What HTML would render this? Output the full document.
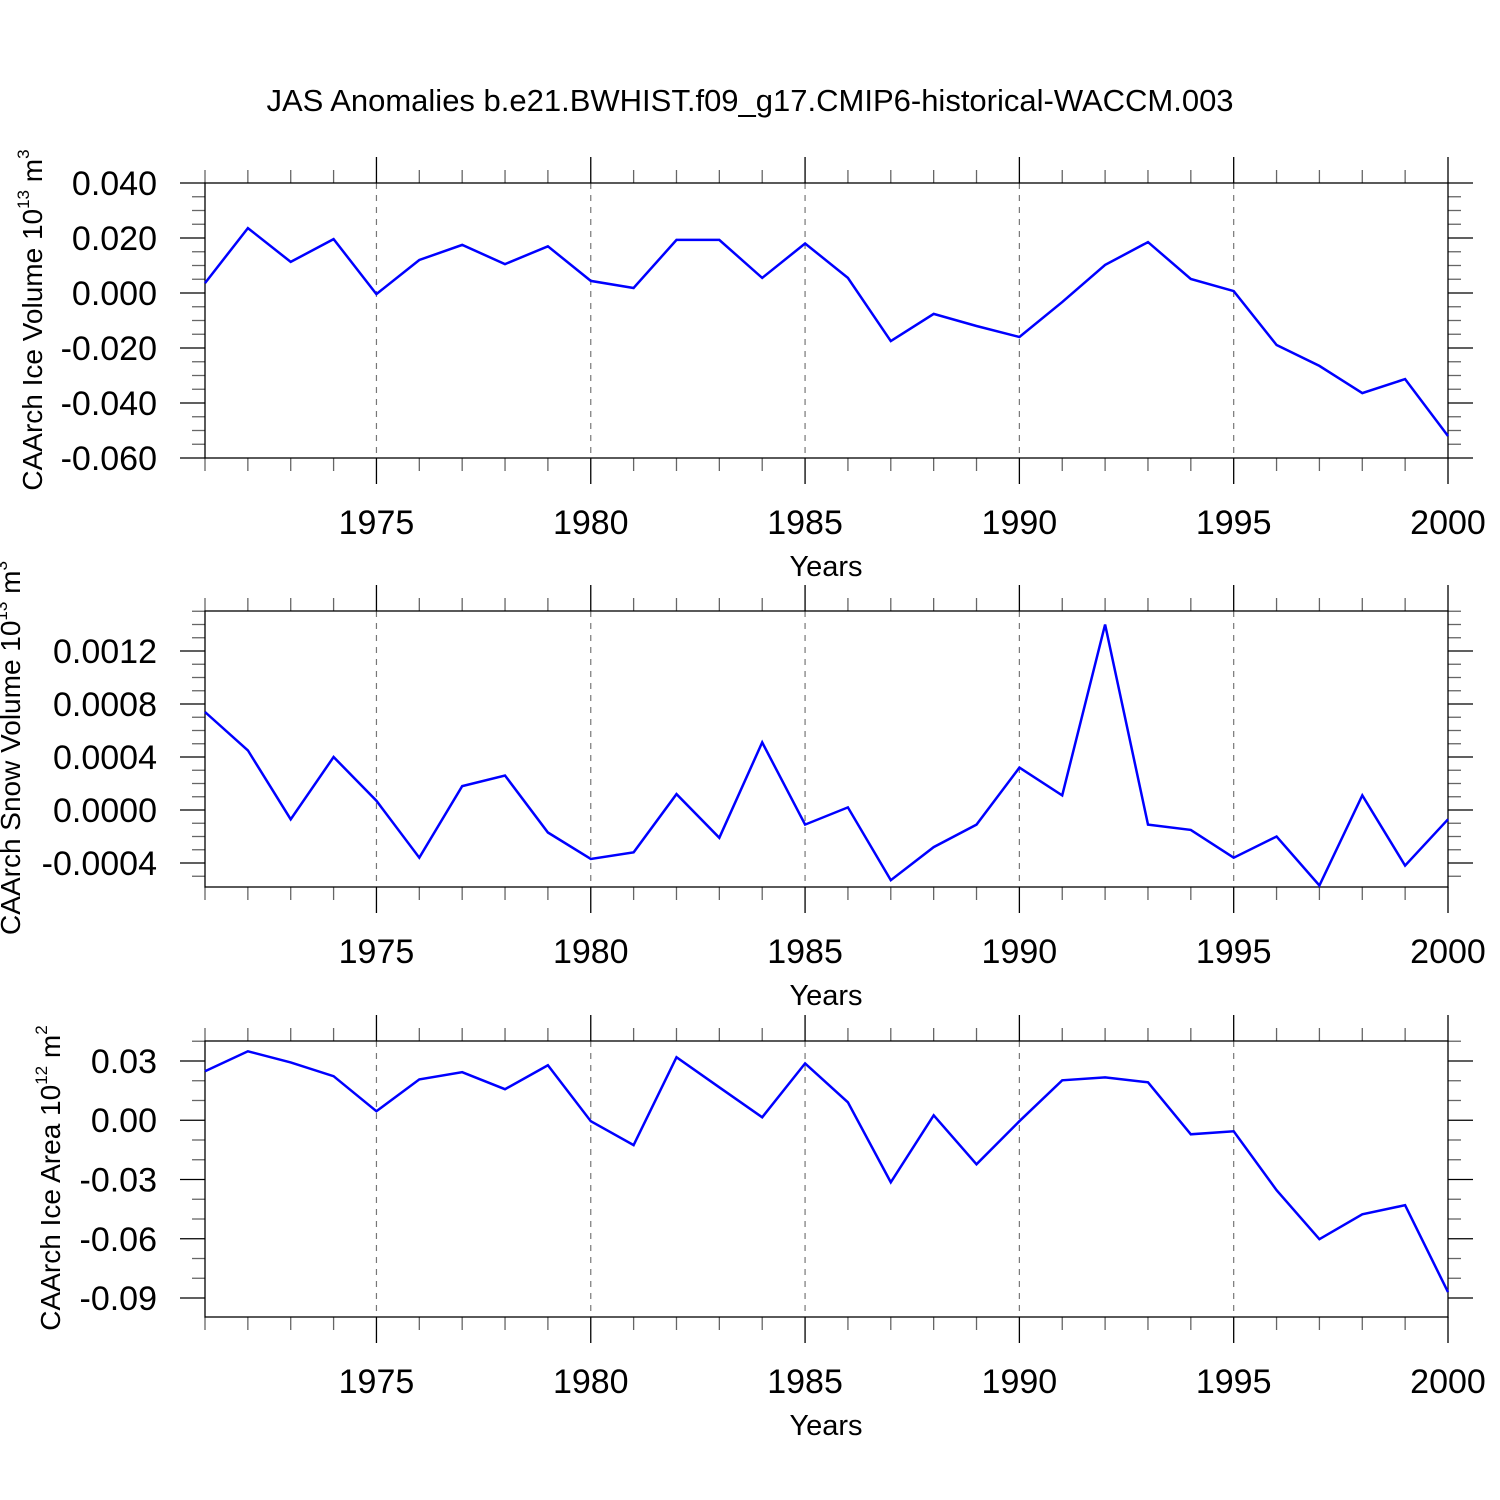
<!DOCTYPE html>
<html><head><meta charset="utf-8"><style>
html,body{margin:0;padding:0;background:#fff;}
svg{display:block;font-family:"Liberation Sans",Arial,sans-serif;}
</style></head><body>
<svg id="chart" width="1500" height="1500" viewBox="0 0 1500 1500">
<rect width="1500" height="1500" fill="#fff"/>
<text x="750" y="111" text-anchor="middle" font-size="31">JAS Anomalies b.e21.BWHIST.f09_g17.CMIP6-historical-WACCM.003</text>
</svg>
<script>
const years = [1971,1972,1973,1974,1975,1976,1977,1978,1979,1980,1981,1982,1983,1984,1985,1986,1987,1988,1989,1990,1991,1992,1993,1994,1995,1996,1997,1998,1999,2000];
const iceVolume = [0.0036,0.0236,0.0113,0.0196,-0.0004,0.012,0.0175,0.0105,0.017,0.0044,0.0018,0.0193,0.0193,0.0055,0.018,0.0055,-0.0175,-0.0076,-0.012,-0.016,-0.0033,0.0102,0.0185,0.0051,0.0007,-0.0189,-0.0265,-0.0364,-0.0313,-0.052];
const snowVolume = [0.00074,0.00045,-0.00007,0.0004,0.00007,-0.00036,0.00018,0.00026,-0.00017,-0.00037,-0.00032,0.00012,-0.00021,0.00051,-0.00011,0.00002,-0.00053,-0.00028,-0.00011,0.00032,0.00011,0.0014,-0.00011,-0.00015,-0.00036,-0.0002,-0.00057,0.00011,-0.00042,-0.00007];
const iceArea = [0.0248,0.0349,0.0293,0.0223,0.0046,0.0207,0.0243,0.0157,0.0278,-0.0005,-0.0126,0.0319,0.0167,0.0015,0.0288,0.0091,-0.0314,0.0025,-0.0223,-0.0005,0.0202,0.0217,0.0192,-0.0071,-0.0056,-0.0354,-0.0602,-0.0476,-0.043,-0.087];
const xTicks = [1975,1980,1985,1990,1995,2000];
const ticks1 = ["0.040","0.020","0.000","-0.020","-0.040","-0.060"];
const ticks2 = ["0.0012","0.0008","0.0004","0.0000","-0.0004"];
const ticks3 = ["0.03","0.00","-0.03","-0.06","-0.09"];

const NS="http://www.w3.org/2000/svg";
const svg=document.getElementById('chart');
function mk(tag,attrs,parent){const e=document.createElementNS(NS,tag);for(const k in attrs)e.setAttribute(k,attrs[k]);(parent||svg).appendChild(e);return e;}
const X0=205,X1=1448,Y0=1971,Y1=2000;
function xs(y){return X0+(y-Y0)/(Y1-Y0)*(X1-X0);}

function panel(o){
  const g=mk('g',{});
  
  
  const ys=v=>o.top+(o.vmax-v)/(o.vmax-o.vmin)*(o.bot-o.top);
  xTicks.forEach(t=>{ if(t<Y1){const l=mk('line',{x1:xs(t),x2:xs(t),y1:o.top,y2:o.bot,stroke:'#777','stroke-width':1.2,'stroke-dasharray':'6,6'},g);
    }});
  for(let y=Y0;y<=Y1;y++){const maj=xTicks.includes(y);const L=maj?26:13;
    mk('line',{x1:xs(y),x2:xs(y),y1:o.top-L,y2:o.top,stroke:maj?'#000':'#666','stroke-width':1.3},g);
    mk('line',{x1:xs(y),x2:xs(y),y1:o.bot,y2:o.bot+L,stroke:maj?'#000':'#666','stroke-width':1.3},g);}
  const mn=o.minor;
  for(let k=Math.ceil(o.vmin/mn-1e-6);k*mn<=o.vmax+1e-9;k++){const v=k*mn;
    const maj=Math.abs(v/o.major-Math.round(v/o.major))<1e-3;const L=maj?25:13;const yy=ys(v);
    mk('line',{x1:X0-L,x2:X0,y1:yy,y2:yy,stroke:maj?'#000':'#666','stroke-width':1.3},g);
    mk('line',{x1:X1,x2:X1+L,y1:yy,y2:yy,stroke:maj?'#000':'#666','stroke-width':1.3},g);}
  const box=mk('rect',{x:X0,y:o.top,width:X1-X0,height:o.bot-o.top,fill:'none',stroke:'#000','stroke-width':1.3},g);
  
  o.labels.forEach(s=>{const t=mk('text',{x:157,y:ys(parseFloat(s))+12,'text-anchor':'end','font-size':34},g);t.textContent=s;
    });
  xTicks.forEach(yv=>{const t=mk('text',{x:xs(yv),y:o.bot+76,'text-anchor':'middle','font-size':34},g);t.textContent=yv;
    });
  const xt=mk('text',{x:826,y:o.bot+118,'text-anchor':'middle','font-size':29},g);xt.textContent='Years';
  
  const yt=mk('text',{transform:`translate(${o.tx},${o.tc}) rotate(-90)`,'text-anchor':'middle','font-size':28},g);
  
  yt.innerHTML=o.title;
  const pts=o.data.map((v,i)=>xs(years[i]).toFixed(1)+','+ys(v).toFixed(1)).join(' ');
  const pl=mk('polyline',{points:pts,fill:'none',stroke:'#0000ff','stroke-width':2.5,'stroke-linejoin':'miter'},g);
  
}
const sup=(a,b)=>'10<tspan font-size="17" dy="-13">'+a+'</tspan><tspan dy="13"> m</tspan><tspan font-size="17" dy="-13">'+b+'</tspan>';
panel({name:'ice-volume-panel',top:183,bot:458,vmax:0.040,vmin:-0.060,major:0.02,minor:0.005,labels:ticks1,data:iceVolume,tx:42,tc:320,
  title:'CAArch Ice Volume '+sup('13','3')});
panel({name:'snow-volume-panel',top:611,bot:887,vmax:0.0012+40/53*0.0004,vmin:-0.0004-24/53*0.0004,major:0.0004,minor:0.0001,labels:ticks2,data:snowVolume,tx:20,tc:748,
  title:'CAArch Snow Volume '+sup('13','3')});
panel({name:'ice-area-panel',top:1041,bot:1317,vmax:0.03+20/59.3*0.03,vmin:-0.09-19/59.3*0.03,major:0.03,minor:0.01,labels:ticks3,data:iceArea,tx:60,tc:1178,
  title:'CAArch Ice Area '+sup('12','2')});
</script>
</body></html>
